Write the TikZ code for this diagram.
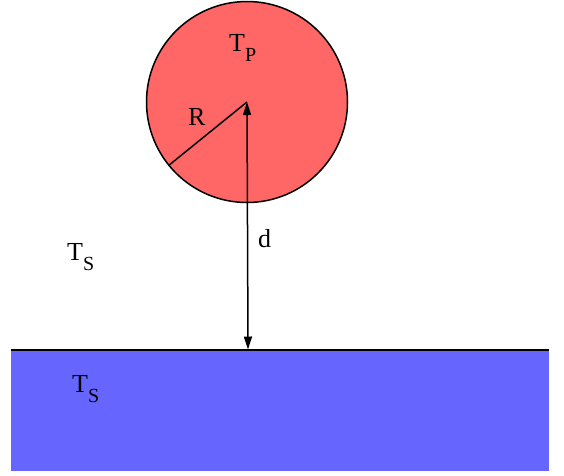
\documentclass[tikz,border=0pt]{standalone}
\usepackage{fontspec}
\setmainfont{Liberation Serif}
\usetikzlibrary{arrows.meta}
\definecolor{ballred}{HTML}{FF6666}
\definecolor{slabblue}{HTML}{6666FF}
\newcommand{\Tsub}[1]{T\raisebox{-10.5pt}{\fontsize{20}{20}\selectfont #1}}
\tikzset{
  lbl/.style={anchor=base west, inner sep=0pt, font=\fontsize{26}{26}\selectfont},
  arr/.style={line width=1.5pt, {Triangle[length=13pt,width=8pt]}-{Triangle[length=13pt,width=8pt]}},
}
\begin{document}
\begin{tikzpicture}[x=1pt,y=-1pt]
\useasboundingbox (0,0) rectangle (564,475);
\fill[slabblue] (11,349) rectangle (549,471);
\coordinate (sl) at (11,349.5);
\coordinate (sr) at (549,349.5);
\draw[line width=2pt] (sl) -- (sr);
\node[circle, draw, line width=1.5pt, fill=ballred, minimum size=201pt, inner sep=0pt, outer sep=0pt] (ball) at (247,102) {};
\coordinate (foot) at (248,349.5);
\draw[line width=1.5pt] (ball.center) -- (ball.219);
\draw[arr] (ball.center) -- (foot);
\node[lbl] (tp) at (229,51) {\Tsub{P}};
\node[lbl] (r) at (188,125) {R};
\node[lbl] (d) at (258,247) {d};
\node[lbl] (ts1) at (67,260) {\Tsub{S}};
\node[lbl] (ts2) at (72,392) {\Tsub{S}};
\end{tikzpicture}
\end{document}
